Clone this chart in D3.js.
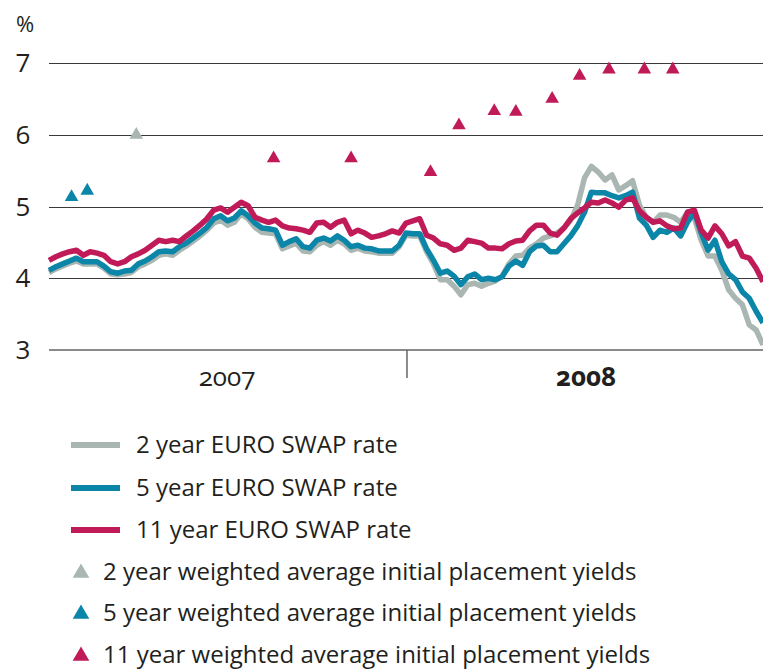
<!DOCTYPE html>
<html>
<head>
<meta charset="utf-8">
<script src="https://cdn.jsdelivr.net/npm/d3@7"></script>
<style>
  body { margin: 0; background: #fff; }
  svg text { font-family: "Open Sans", "Noto Sans", sans-serif; fill: #231f20; }
  svg text.year { font-feature-settings: "onum" 1; font-variant-numeric: oldstyle-nums; }
</style>
</head>
<body>
<div class="chart"></div>
<script>

// weekly observations, starting first week of 2007
var startDate = "2007-01-01";
var endDate = "2008-12-29";

var swap2 = [4.08,4.13,4.17,4.21,4.24,4.20,4.20,4.20,4.14,4.06,4.05,4.06,4.08,4.16,4.20,4.25,4.32,4.34,4.32,4.39,
  4.45,4.52,4.59,4.67,4.77,4.81,4.74,4.78,4.90,4.83,4.71,4.64,4.63,4.62,4.41,4.45,4.49,4.38,4.37,4.46,
  4.51,4.46,4.53,4.48,4.39,4.42,4.38,4.37,4.35,4.35,4.35,4.44,4.60,4.59,4.59,4.37,4.20,3.98,3.98,3.89,
  3.77,3.91,3.93,3.89,3.93,3.96,4.03,4.20,4.31,4.32,4.42,4.48,4.56,4.59,4.63,4.70,4.81,5.02,5.40,5.56,
  5.48,5.37,5.44,5.23,5.29,5.36,5.02,4.85,4.78,4.88,4.88,4.85,4.78,4.92,4.84,4.53,4.31,4.31,4.11,3.84,
  3.72,3.63,3.35,3.28,3.07];

var swap5 = [4.11,4.16,4.20,4.24,4.28,4.23,4.23,4.23,4.17,4.09,4.07,4.10,4.11,4.20,4.24,4.30,4.37,4.38,4.37,4.44,
  4.49,4.56,4.63,4.71,4.83,4.87,4.80,4.84,4.94,4.87,4.77,4.70,4.69,4.67,4.46,4.51,4.55,4.44,4.42,4.53,
  4.56,4.52,4.59,4.53,4.44,4.46,4.42,4.41,4.38,4.38,4.38,4.46,4.63,4.62,4.62,4.41,4.25,4.07,4.10,4.03,
  3.91,4.02,4.06,3.98,4.00,3.98,4.02,4.17,4.24,4.18,4.37,4.45,4.46,4.37,4.37,4.48,4.59,4.73,4.92,5.20,
  5.19,5.19,5.15,5.12,5.15,5.20,4.84,4.74,4.57,4.67,4.64,4.70,4.59,4.78,4.92,4.63,4.39,4.53,4.23,4.06,
  3.98,3.81,3.72,3.54,3.38];

var swap11 = [4.25,4.30,4.34,4.37,4.39,4.32,4.37,4.35,4.32,4.23,4.20,4.23,4.30,4.34,4.39,4.46,4.53,4.51,4.53,4.51,
  4.59,4.66,4.74,4.83,4.95,4.98,4.92,4.99,5.06,5.01,4.85,4.81,4.78,4.81,4.73,4.70,4.69,4.67,4.64,4.77,
  4.78,4.71,4.78,4.81,4.62,4.67,4.63,4.57,4.59,4.62,4.66,4.63,4.77,4.80,4.83,4.60,4.56,4.48,4.46,4.39,
  4.42,4.53,4.51,4.49,4.42,4.42,4.41,4.48,4.52,4.53,4.66,4.74,4.74,4.63,4.60,4.70,4.83,4.91,4.98,5.06,
  5.05,5.09,5.05,4.99,5.09,5.12,4.94,4.85,4.78,4.80,4.73,4.69,4.70,4.92,4.95,4.67,4.56,4.73,4.62,4.45,
  4.51,4.31,4.28,4.14,3.95];

// weighted average initial placement yields
var place2Dates = ["2007-03-31"];
var place2Values = [6.00];
var place5Dates = ["2007-01-24", "2007-02-09"];
var place5Values = [5.13, 5.22];
var place11Dates = ["2007-08-18", "2007-11-05", "2008-01-25", "2008-02-23", "2008-03-30", "2008-04-21",
  "2008-05-28", "2008-06-25", "2008-07-25", "2008-08-30", "2008-09-28"];
var place11Values = [5.67, 5.67, 5.48, 6.13, 6.33, 6.32, 6.50, 6.82, 6.91, 6.91, 6.91];

var yTicks = [3, 4, 5, 6, 7];
var yearLabels = ["2007", "2008"];

var legendItems = [
  { label: "2 year EURO SWAP rate", type: "line", color: "#a9b6b1" },
  { label: "5 year EURO SWAP rate", type: "line", color: "#0c86a8" },
  { label: "11 year EURO SWAP rate", type: "line", color: "#c01b58" },
  { label: "2 year weighted average initial placement yields", type: "tri", color: "#a9b6b1" },
  { label: "5 year weighted average initial placement yields", type: "tri", color: "#0c86a8" },
  { label: "11 year weighted average initial placement yields", type: "tri", color: "#c01b58" }
];

var width = 763, height = 671;
var parse = d3.timeParse("%Y-%m-%d");

var svg = d3.select(".chart").append("svg")
  .attr("width", width)
  .attr("height", height);

var x = d3.scaleTime()
  .domain([parse(startDate), parse(endDate)])
  .range([49, 763]);

var y = d3.scaleLinear()
  .domain([3, 7])
  .range([350, 63]);

var dates = d3.timeDay.range(parse(startDate), d3.timeDay.offset(parse(endDate), 1), 7);

// gridlines + tick labels
var grid = svg.append("g");
grid.selectAll("line")
  .data(yTicks.filter(function (d) { return d > 3; }))
  .enter().append("line")
  .attr("x1", 49).attr("x2", width)
  .attr("y1", function (d) { return Math.round(y(d)) + 0.5; })
  .attr("y2", function (d) { return Math.round(y(d)) + 0.5; })
  .attr("stroke", "#3a3a3a")
  .attr("stroke-width", 1.2);

grid.selectAll("text")
  .data(yTicks)
  .enter().append("text")
  .attr("x", 23)
  .attr("y", function (d) { return y(d) + 9; })
  .attr("text-anchor", "middle")
  .style("font-size", "26px")
  .text(function (d) { return d; });

svg.append("text")
  .attr("x", 25).attr("y", 32)
  .attr("text-anchor", "middle")
  .style("font-size", "22px")
  .text("%");

// lines
var line = d3.line()
  .x(function (d, i) { return x(dates[i]); })
  .y(function (d) { return y(d); });

var series = [
  { values: swap2, color: legendItems[0].color },
  { values: swap5, color: legendItems[1].color },
  { values: swap11, color: legendItems[2].color }
];

svg.append("g").selectAll("path")
  .data(series)
  .enter().append("path")
  .attr("d", function (d) { return line(d.values); })
  .attr("fill", "none")
  .attr("stroke", function (d) { return d.color; })
  .attr("stroke-width", 5.5)
  .attr("stroke-linejoin", "round");

// bottom axis line + year divider
svg.append("line")
  .attr("x1", 49).attr("x2", width)
  .attr("y1", y(3)).attr("y2", y(3))
  .attr("stroke", "#8a8a8a")
  .attr("stroke-width", 2);

var mid = x(parse("2008-01-01"));
svg.append("line")
  .attr("x1", mid).attr("x2", mid)
  .attr("y1", y(3)).attr("y2", 378)
  .attr("stroke", "#666")
  .attr("stroke-width", 1.5);

svg.selectAll(".year")
  .data(yearLabels)
  .enter().append("text")
  .attr("class", "year")
  .attr("x", function (d, i) { return i === 0 ? 227 : 586; })
  .attr("y", 386)
  .attr("text-anchor", "middle")
  .style("font-size", "26px")
  .style("font-weight", function (d, i) { return i === 1 ? "700" : "400"; })
  .text(function (d) { return d; });

// placement yield triangles
var tri = d3.symbol().type(d3.symbolTriangle).size(80);
var points = [
  { dates: place2Dates, values: place2Values, color: legendItems[3].color },
  { dates: place5Dates, values: place5Values, color: legendItems[4].color },
  { dates: place11Dates, values: place11Values, color: legendItems[5].color }
];

points.forEach(function (p) {
  svg.append("g").selectAll("path")
    .data(p.values)
    .enter().append("path")
    .attr("d", tri)
    .attr("fill", p.color)
    .attr("transform", function (d, i) {
      return "translate(" + x(parse(p.dates[i])) + "," + y(d) + ")";
    });
});

// legend
var legendY = [445, 488, 530, 572, 613, 655];
var legend = svg.append("g");
legendItems.forEach(function (item, i) {
  var g = legend.append("g").attr("transform", "translate(0," + legendY[i] + ")");
  if (item.type === "line") {
    g.append("line")
      .attr("x1", 71).attr("x2", 120)
      .attr("y1", 0).attr("y2", 0)
      .attr("stroke", item.color)
      .attr("stroke-width", 6);
    g.append("text").attr("x", 136).attr("y", 8)
      .style("font-size", "24px")
      .text(item.label);
  } else {
    g.append("path")
      .attr("d", d3.symbol().type(d3.symbolTriangle).size(120)())
      .attr("fill", item.color)
      .attr("transform", "translate(81,1)");
    g.append("text").attr("x", 103).attr("y", 8)
      .style("font-size", "24px")
      .text(item.label);
  }
});

</script>
</body>
</html>
